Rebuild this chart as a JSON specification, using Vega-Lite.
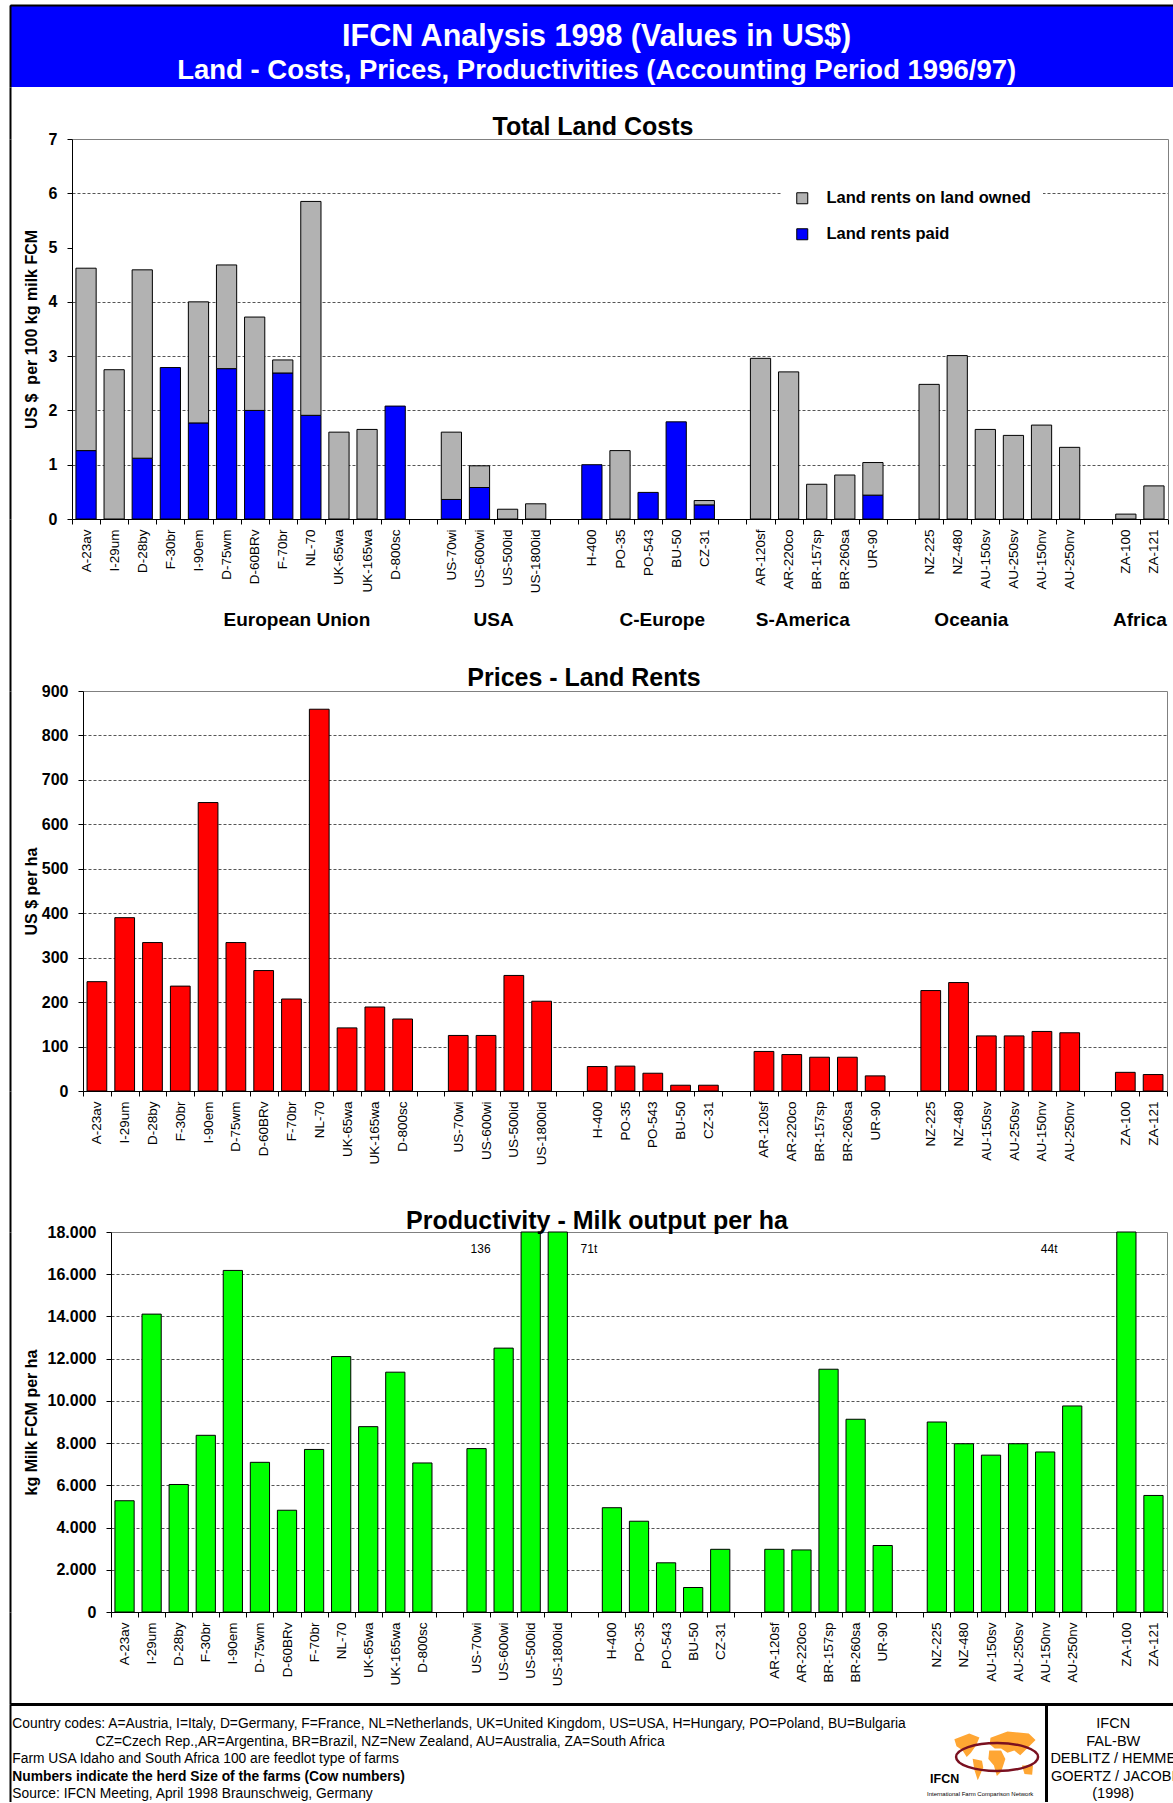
{
  "$schema": "https://vega.github.io/schema/vega-lite/v6.json",
  "padding": {"left": 3, "top": 5, "right": 0, "bottom": 0},
  "background": "white",
  "bounds": "flush",
  "spacing": 0,
  "config": {
    "font": "Liberation Sans",
    "view": {"stroke": null},
    "axis": {"labelFont": "Liberation Sans", "titleFont": "Liberation Sans", "labelColor": "black", "titleColor": "black", "domainColor": "black", "tickColor": "black"},
    "title": {"font": "Liberation Sans", "color": "black"},
    "legend": {"labelFont": "Liberation Sans", "labelColor": "black"},
    "text": {"font": "Liberation Sans", "color": "black"}
  },
  "datasets": {
    "frame": [{"v": 0}],
    "header": [
      {"line": 1, "text": "IFCN Analysis 1998 (Values in US$)"},
      {"line": 2, "text": "Land - Costs, Prices, Productivities (Accounting Period 1996/97)"}
    ],
    "costs": [
      {"cat": "A-23av", "type": "Land rents paid", "value": 1.26},
      {"cat": "A-23av", "type": "Land rents on land owned", "value": 3.36},
      {"cat": "I-29um", "type": "Land rents on land owned", "value": 2.75},
      {"cat": "D-28by", "type": "Land rents paid", "value": 1.12},
      {"cat": "D-28by", "type": "Land rents on land owned", "value": 3.47},
      {"cat": "F-30br", "type": "Land rents paid", "value": 2.79},
      {"cat": "I-90em", "type": "Land rents paid", "value": 1.77},
      {"cat": "I-90em", "type": "Land rents on land owned", "value": 2.23},
      {"cat": "D-75wm", "type": "Land rents paid", "value": 2.77},
      {"cat": "D-75wm", "type": "Land rents on land owned", "value": 1.91},
      {"cat": "D-60BRv", "type": "Land rents paid", "value": 2.0},
      {"cat": "D-60BRv", "type": "Land rents on land owned", "value": 1.72},
      {"cat": "F-70br", "type": "Land rents paid", "value": 2.69},
      {"cat": "F-70br", "type": "Land rents on land owned", "value": 0.24},
      {"cat": "NL-70", "type": "Land rents paid", "value": 1.91},
      {"cat": "NL-70", "type": "Land rents on land owned", "value": 3.94},
      {"cat": "UK-65wa", "type": "Land rents on land owned", "value": 1.6},
      {"cat": "UK-165wa", "type": "Land rents on land owned", "value": 1.65},
      {"cat": "D-800sc", "type": "Land rents paid", "value": 2.08},
      {"cat": "US-70wi", "type": "Land rents paid", "value": 0.36},
      {"cat": "US-70wi", "type": "Land rents on land owned", "value": 1.24},
      {"cat": "US-600wi", "type": "Land rents paid", "value": 0.58},
      {"cat": "US-600wi", "type": "Land rents on land owned", "value": 0.4},
      {"cat": "US-500id", "type": "Land rents on land owned", "value": 0.18},
      {"cat": "US-1800id", "type": "Land rents on land owned", "value": 0.28},
      {"cat": "H-400", "type": "Land rents paid", "value": 1.0},
      {"cat": "PO-35", "type": "Land rents on land owned", "value": 1.26},
      {"cat": "PO-543", "type": "Land rents paid", "value": 0.49},
      {"cat": "BU-50", "type": "Land rents paid", "value": 1.79},
      {"cat": "CZ-31", "type": "Land rents paid", "value": 0.26},
      {"cat": "CZ-31", "type": "Land rents on land owned", "value": 0.08},
      {"cat": "AR-120sf", "type": "Land rents on land owned", "value": 2.96},
      {"cat": "AR-220co", "type": "Land rents on land owned", "value": 2.71},
      {"cat": "BR-157sp", "type": "Land rents on land owned", "value": 0.64},
      {"cat": "BR-260sa", "type": "Land rents on land owned", "value": 0.81},
      {"cat": "UR-90", "type": "Land rents paid", "value": 0.44},
      {"cat": "UR-90", "type": "Land rents on land owned", "value": 0.6},
      {"cat": "NZ-225", "type": "Land rents on land owned", "value": 2.48},
      {"cat": "NZ-480", "type": "Land rents on land owned", "value": 3.01},
      {"cat": "AU-150sv", "type": "Land rents on land owned", "value": 1.65},
      {"cat": "AU-250sv", "type": "Land rents on land owned", "value": 1.54},
      {"cat": "AU-150nv", "type": "Land rents on land owned", "value": 1.73},
      {"cat": "AU-250nv", "type": "Land rents on land owned", "value": 1.32},
      {"cat": "ZA-100", "type": "Land rents on land owned", "value": 0.09},
      {"cat": "ZA-121", "type": "Land rents on land owned", "value": 0.61}
    ],
    "rents": [
      {"cat": "A-23av", "rent": 246}, {"cat": "I-29um", "rent": 390}, {"cat": "D-28by", "rent": 334},
      {"cat": "F-30br", "rent": 236}, {"cat": "I-90em", "rent": 649}, {"cat": "D-75wm", "rent": 334},
      {"cat": "D-60BRv", "rent": 271}, {"cat": "F-70br", "rent": 207}, {"cat": "NL-70", "rent": 859},
      {"cat": "UK-65wa", "rent": 142}, {"cat": "UK-165wa", "rent": 189}, {"cat": "D-800sc", "rent": 162},
      {"cat": "US-70wi", "rent": 125}, {"cat": "US-600wi", "rent": 125}, {"cat": "US-500id", "rent": 260},
      {"cat": "US-1800id", "rent": 202}, {"cat": "H-400", "rent": 55}, {"cat": "PO-35", "rent": 56},
      {"cat": "PO-543", "rent": 40}, {"cat": "BU-50", "rent": 13}, {"cat": "CZ-31", "rent": 13},
      {"cat": "AR-120sf", "rent": 89}, {"cat": "AR-220co", "rent": 82}, {"cat": "BR-157sp", "rent": 76},
      {"cat": "BR-260sa", "rent": 76}, {"cat": "UR-90", "rent": 34}, {"cat": "NZ-225", "rent": 226},
      {"cat": "NZ-480", "rent": 244}, {"cat": "AU-150sv", "rent": 124}, {"cat": "AU-250sv", "rent": 124},
      {"cat": "AU-150nv", "rent": 134}, {"cat": "AU-250nv", "rent": 131}, {"cat": "ZA-100", "rent": 42},
      {"cat": "ZA-121", "rent": 37}
    ],
    "milk": [
      {"cat": "A-23av", "milk": 5270}, {"cat": "I-29um", "milk": 14110}, {"cat": "D-28by", "milk": 6040},
      {"cat": "F-30br", "milk": 8370}, {"cat": "I-90em", "milk": 16180}, {"cat": "D-75wm", "milk": 7090},
      {"cat": "D-60BRv", "milk": 4820}, {"cat": "F-70br", "milk": 7700}, {"cat": "NL-70", "milk": 12100},
      {"cat": "UK-65wa", "milk": 8780}, {"cat": "UK-165wa", "milk": 11360}, {"cat": "D-800sc", "milk": 7060},
      {"cat": "US-70wi", "milk": 7740}, {"cat": "US-600wi", "milk": 12500}, {"cat": "US-500id", "milk": 136000},
      {"cat": "US-1800id", "milk": 71000}, {"cat": "H-400", "milk": 4940}, {"cat": "PO-35", "milk": 4300},
      {"cat": "PO-543", "milk": 2330}, {"cat": "BU-50", "milk": 1160}, {"cat": "CZ-31", "milk": 2970},
      {"cat": "AR-120sf", "milk": 2970}, {"cat": "AR-220co", "milk": 2940}, {"cat": "BR-157sp", "milk": 11500},
      {"cat": "BR-260sa", "milk": 9130}, {"cat": "UR-90", "milk": 3150}, {"cat": "NZ-225", "milk": 9000},
      {"cat": "NZ-480", "milk": 7970}, {"cat": "AU-150sv", "milk": 7430}, {"cat": "AU-250sv", "milk": 7970},
      {"cat": "AU-150nv", "milk": 7580}, {"cat": "AU-250nv", "milk": 9760}, {"cat": "ZA-100", "milk": 44000},
      {"cat": "ZA-121", "milk": 5520}
    ],
    "notes": [
      {"cat": "US-70wi", "note": "136"},
      {"cat": "  ", "note": "71t"},
      {"cat": "AU-150nv", "note": "44t"}
    ],
    "footnotes": [
      {"line": 1, "text": "Country codes: A=Austria, I=Italy, D=Germany, F=France, NL=Netherlands, UK=United Kingdom, US=USA, H=Hungary, PO=Poland, BU=Bulgaria"},
      {"line": 2, "text": "CZ=Czech Rep.,AR=Argentina, BR=Brazil, NZ=New Zealand, AU=Australia, ZA=South Africa"},
      {"line": 3, "text": "Farm USA Idaho and South Africa 100 are feedlot type of farms"},
      {"line": 4, "text": "Numbers indicate the herd Size of the farms (Cow numbers)"},
      {"line": 5, "text": "Source: IFCN Meeting, April 1998 Braunschweig, Germany"}
    ],
    "credits": [
      {"line": 1, "text": "IFCN"},
      {"line": 2, "text": "FAL-BW"},
      {"line": 3, "text": "DEBLITZ / HEMME"},
      {"line": 4, "text": "GOERTZ / JACOBI"},
      {"line": 5, "text": "(1998)"}
    ],
    "logo": [
      {"line": 3, "part": "globe"},
      {"line": 4, "part": "IFCN"},
      {"line": 5, "part": "International Farm Comparison Network"}
    ]
  },
  "vconcat": [
    {
      "width": 1164, "height": 82,
      "view": {"fill": "#0000FF", "stroke": null},
      "data": {"name": "header"},
      "mark": {"type": "text", "color": "white", "fontWeight": "bold", "align": "center", "dy": 3.5},
      "encoding": {
        "x": {"datum": 0.504, "type": "quantitative", "scale": {"domain": [0, 1]},
              "axis": {"orient": "top", "domain": true, "domainColor": "black", "domainWidth": 2, "ticks": false, "labels": false, "grid": false, "title": null}},
        "y": {"field": "line", "type": "ordinal", "scale": {"type": "band", "paddingInner": 0, "paddingOuter": 0.188, "align": 0.865},
              "axis": {"orient": "left", "domain": true, "domainColor": "black", "domainWidth": 2, "ticks": false, "labels": false, "grid": false, "title": null}},
        "text": {"field": "text"},
        "size": {"condition": {"test": "datum.line == 1", "value": 30.5}, "value": 27.5}
      }
    },
    {
      "width": 1164, "height": 52,
      "data": {"name": "frame"},
      "mark": {"type": "point", "opacity": 0},
      "encoding": {"y": {"field": "v", "type": "quantitative", "scale": {"domain": [0, 1]},
        "axis": {"orient": "left", "domain": true, "domainColor": "black", "domainWidth": 2, "ticks": false, "labels": false, "grid": false, "title": null}}}
    },
    {
      "width": 1158, "height": 380,
      "title": {"text": "Total Land Costs", "fontSize": 25, "fontWeight": "bold", "anchor": "middle", "frame": "group", "dx": 4, "offset": -28.5, "baseline": "alphabetic"},
      "data": {"name": "costs"},
      "layer": [
        {
          "mark": {"type": "bar", "stroke": "black", "strokeWidth": 1, "width": {"band": 0.72}},
          "encoding": {
            "x": {"field": "cat", "type": "nominal",
                  "scale": {"domain": ["A-23av","I-29um","D-28by","F-30br","I-90em","D-75wm","D-60BRv","F-70br","NL-70","UK-65wa","UK-165wa","D-800sc"," ","US-70wi","US-600wi","US-500id","US-1800id","  ","H-400","PO-35","PO-543","BU-50","CZ-31","   ","AR-120sf","AR-220co","BR-157sp","BR-260sa","UR-90","    ","NZ-225","NZ-480","AU-150sv","AU-250sv","AU-150nv","AU-250nv","     ","ZA-100","ZA-121"], "range": [62, 1158], "paddingInner": 0, "paddingOuter": 0},
                  "axis": {"orient": "bottom", "title": null, "labelAngle": -90, "labelFontSize": 13.5, "labelPadding": 5, "tickBand": "extent", "tickSize": 5, "grid": false}},
            "y": {"field": "value", "type": "quantitative", "stack": "zero", "scale": {"domain": [0, 7], "nice": false},
                  "axis": {"orient": "left", "offset": -62, "values": [0,1,2,3,4,5,6,7], "title": "US $\u00a0 per 100 kg milk FCM", "titleFontSize": 16, "titleFontWeight": "bold", "titleX": -40.5, "titleY": 190, "titleAngle": -90, "titleAlign": "center", "titleBaseline": "middle",
                           "labelFontSize": 16, "labelFontWeight": "bold", "labelPadding": 10, "tickSize": 5,
                           "grid": true, "gridDash": [3, 2], "gridColor": "#555555", "gridWidth": 1,
                           "gridOpacity": {"condition": {"test": "datum.value == 0 || datum.value == 5 || datum.value == 7", "value": 0}, "value": 1}}},
            "color": {"field": "type", "type": "nominal",
                      "scale": {"domain": ["Land rents on land owned", "Land rents paid"], "range": ["#B2B2B2", "#0000FF"]},
                      "legend": {"title": null, "orient": "none", "legendX": 772, "legendY": 173, "fillColor": "white", "padding": 12,
                                 "symbolType": "square", "symbolSize": 121, "symbolStrokeColor": "black", "symbolStrokeWidth": 1, "symbolOpacity": 1,
                                 "labelFontSize": 16.5, "labelFontWeight": "bold", "labelOffset": 16, "labelLimit": 320, "rowPadding": 19}},
            "order": {"field": "type", "type": "nominal", "sort": "descending"}
          }
        },
        {
          "mark": {"type": "point", "opacity": 0},
          "encoding": {
            "x": {"field": "cat", "type": "nominal",
                  "axis": {"orient": "bottom", "values": ["NL-70", "US-500id", "BU-50", "BR-157sp", "AU-150sv", "ZA-121"],
                           "labelExpr": "datum.value == 'NL-70' ? 'European Union' : datum.value == 'US-500id' ? 'USA' : datum.value == 'BU-50' ? 'C-Europe' : datum.value == 'BR-157sp' ? 'S-America' : datum.value == 'AU-150sv' ? 'Oceania' : 'Africa'",
                           "labelOffset": -14, "labelAngle": 0, "labelAlign": "center", "labelBaseline": "middle", "labelPadding": 100,
                           "labelFontSize": 19, "labelFontWeight": "bold", "ticks": false, "tickSize": 0, "domain": false, "grid": false, "title": null}},
            "y": {"field": "value", "type": "quantitative",
                  "axis": {"orient": "right", "domain": true, "domainColor": "#808080", "domainWidth": 1, "ticks": false, "labels": false, "grid": false, "title": null}}
          }
        },
        {
          "mark": {"type": "point", "opacity": 0},
          "encoding": {
            "x": {"field": "cat", "type": "nominal",
                  "axis": {"orient": "top", "domain": true, "domainColor": "#808080", "domainWidth": 1, "ticks": false, "labels": false, "grid": false, "title": null}},
            "y": {"field": "value", "type": "quantitative",
                  "axis": {"orient": "left", "offset": 0, "domain": true, "domainColor": "black", "domainWidth": 2, "ticks": false, "labels": false, "grid": false, "title": null}}
          }
        }
      ],
      "resolve": {"axis": {"x": "independent", "y": "independent"}}
    },
    {
      "width": 1164, "height": 172,
      "data": {"name": "frame"},
      "mark": {"type": "point", "opacity": 0},
      "encoding": {"y": {"field": "v", "type": "quantitative", "scale": {"domain": [0, 1]},
        "axis": {"orient": "left", "domain": true, "domainColor": "black", "domainWidth": 2, "ticks": false, "labels": false, "grid": false, "title": null}}}
    },
    {
      "width": 1157, "height": 400,
      "title": {"text": "Prices - Land Rents", "fontSize": 25, "fontWeight": "bold", "anchor": "middle", "frame": "group", "dx": -4.5, "offset": -27.8, "baseline": "alphabetic"},
      "data": {"name": "rents"},
      "layer": [
        {
          "mark": {"type": "bar", "color": "#FF0000", "stroke": "black", "strokeWidth": 1, "width": {"band": 0.71}},
          "encoding": {
            "x": {"field": "cat", "type": "nominal",
                  "scale": {"domain": ["A-23av","I-29um","D-28by","F-30br","I-90em","D-75wm","D-60BRv","F-70br","NL-70","UK-65wa","UK-165wa","D-800sc"," ","US-70wi","US-600wi","US-500id","US-1800id","  ","H-400","PO-35","PO-543","BU-50","CZ-31","   ","AR-120sf","AR-220co","BR-157sp","BR-260sa","UR-90","    ","NZ-225","NZ-480","AU-150sv","AU-250sv","AU-150nv","AU-250nv","     ","ZA-100","ZA-121"], "range": [73, 1157], "paddingInner": 0, "paddingOuter": 0},
                  "axis": {"orient": "bottom", "title": null, "labelAngle": -90, "labelFontSize": 13.5, "labelPadding": 5, "tickBand": "extent", "tickSize": 5, "grid": false}},
            "y": {"field": "rent", "type": "quantitative", "scale": {"domain": [0, 900], "nice": false},
                  "axis": {"orient": "left", "offset": -73, "values": [0,100,200,300,400,500,600,700,800,900], "title": "US $ per ha", "titleFontSize": 16, "titleFontWeight": "bold", "titleX": -51.5, "titleY": 200, "titleAngle": -90, "titleAlign": "center", "titleBaseline": "middle",
                           "labelFontSize": 16, "labelFontWeight": "bold", "labelPadding": 10, "tickSize": 5,
                           "grid": true, "gridDash": [3, 2], "gridColor": "#555555", "gridWidth": 1,
                           "gridOpacity": {"condition": {"test": "datum.value == 0 || datum.value == 900", "value": 0}, "value": 1}}}
          }
        },
        {
          "mark": {"type": "point", "opacity": 0},
          "encoding": {
            "x": {"field": "cat", "type": "nominal",
                  "axis": {"orient": "top", "domain": true, "domainColor": "#808080", "domainWidth": 1, "ticks": false, "labels": false, "grid": false, "title": null}},
            "y": {"field": "rent", "type": "quantitative",
                  "axis": {"orient": "right", "domain": true, "domainColor": "#808080", "domainWidth": 1, "ticks": false, "labels": false, "grid": false, "title": null}}
          }
        },
        {
          "mark": {"type": "point", "opacity": 0},
          "encoding": {
            "x": {"field": "cat", "type": "nominal", "axis": null},
            "y": {"field": "rent", "type": "quantitative",
                  "axis": {"orient": "left", "offset": 0, "domain": true, "domainColor": "black", "domainWidth": 2, "ticks": false, "labels": false, "grid": false, "title": null}}
          }
        }
      ],
      "resolve": {"axis": {"x": "independent", "y": "independent"}}
    },
    {
      "width": 1164, "height": 141,
      "data": {"name": "frame"},
      "mark": {"type": "point", "opacity": 0},
      "encoding": {"y": {"field": "v", "type": "quantitative", "scale": {"domain": [0, 1]},
        "axis": {"orient": "left", "domain": true, "domainColor": "black", "domainWidth": 2, "ticks": false, "labels": false, "grid": false, "title": null}}}
    },
    {
      "width": 1157, "height": 380,
      "title": {"text": "Productivity - Milk output per ha", "fontSize": 25, "fontWeight": "bold", "anchor": "middle", "frame": "group", "dx": 8.5, "offset": -29.8, "baseline": "alphabetic"},
      "data": {"name": "milk"},
      "layer": [
        {
          "mark": {"type": "bar", "color": "#00FF00", "stroke": "black", "strokeWidth": 1, "width": {"band": 0.71}},
          "encoding": {
            "x": {"field": "cat", "type": "nominal",
                  "scale": {"domain": ["A-23av","I-29um","D-28by","F-30br","I-90em","D-75wm","D-60BRv","F-70br","NL-70","UK-65wa","UK-165wa","D-800sc"," ","US-70wi","US-600wi","US-500id","US-1800id","  ","H-400","PO-35","PO-543","BU-50","CZ-31","   ","AR-120sf","AR-220co","BR-157sp","BR-260sa","UR-90","    ","NZ-225","NZ-480","AU-150sv","AU-250sv","AU-150nv","AU-250nv","     ","ZA-100","ZA-121"], "range": [101, 1157], "paddingInner": 0, "paddingOuter": 0},
                  "axis": {"orient": "bottom", "title": null, "labelAngle": -90, "labelFontSize": 13.5, "labelPadding": 5, "tickBand": "extent", "tickSize": 5, "grid": false}},
            "y": {"field": "milk", "type": "quantitative", "scale": {"domain": [0, 18000], "nice": false, "clamp": true},
                  "axis": {"orient": "left", "offset": -101, "values": [0,2000,4000,6000,8000,10000,12000,14000,16000,18000],
                           "labelExpr": "replace(format(datum.value, ','), ',', '.')",
                           "title": "kg Milk FCM per ha", "titleFontSize": 16, "titleFontWeight": "bold", "titleX": -80, "titleY": 190, "titleAngle": -90, "titleAlign": "center", "titleBaseline": "middle",
                           "labelFontSize": 16, "labelFontWeight": "bold", "labelPadding": 10, "tickSize": 5,
                           "grid": true, "gridDash": [3, 2], "gridColor": "#555555", "gridWidth": 1,
                           "gridOpacity": {"condition": {"test": "datum.value == 0 || datum.value == 18000", "value": 0}, "value": 1}}}
          }
        },
        {
          "data": {"name": "notes"},
          "mark": {"type": "text", "fontSize": 12, "align": "center", "baseline": "middle"},
          "encoding": {
            "x": {"field": "cat", "type": "nominal", "bandPosition": 0.65, "axis": null},
            "y": {"datum": 17200, "type": "quantitative", "axis": null},
            "text": {"field": "note"}
          }
        },
        {
          "mark": {"type": "point", "opacity": 0},
          "encoding": {
            "x": {"field": "cat", "type": "nominal",
                  "axis": {"orient": "top", "domain": true, "domainColor": "#808080", "domainWidth": 1, "ticks": false, "labels": false, "grid": false, "title": null}},
            "y": {"field": "milk", "type": "quantitative",
                  "axis": {"orient": "right", "domain": true, "domainColor": "#808080", "domainWidth": 1, "ticks": false, "labels": false, "grid": false, "title": null}}
          }
        },
        {
          "mark": {"type": "point", "opacity": 0},
          "encoding": {
            "x": {"field": "cat", "type": "nominal", "axis": null},
            "y": {"field": "milk", "type": "quantitative",
                  "axis": {"orient": "left", "offset": 0, "domain": true, "domainColor": "black", "domainWidth": 2, "ticks": false, "labels": false, "grid": false, "title": null}}
          }
        }
      ],
      "resolve": {"axis": {"x": "independent", "y": "independent"}}
    },
    {
      "width": 1164, "height": 92,
      "data": {"name": "frame"},
      "mark": {"type": "point", "opacity": 0},
      "encoding": {
        "x": {"field": "v", "type": "quantitative", "scale": {"domain": [0, 1]},
              "axis": {"orient": "bottom", "domain": true, "domainColor": "black", "domainWidth": 3, "ticks": false, "labels": false, "grid": false, "title": null}},
        "y": {"field": "v", "type": "quantitative", "scale": {"domain": [0, 1]},
              "axis": {"orient": "left", "domain": true, "domainColor": "black", "domainWidth": 2, "ticks": false, "labels": false, "grid": false, "title": null}}
      }
    },
    {
      "width": 1164, "height": 98,
      "layer": [
        {
          "data": {"name": "footnotes"},
          "transform": [{"filter": "datum.line == 1 || datum.line == 3 || datum.line == 5"}],
          "mark": {"type": "text", "align": "left", "fontSize": 13.8, "dy": 2.5},
          "encoding": {
            "x": {"datum": 0.002, "type": "quantitative", "scale": {"domain": [0, 1]}, "axis": null},
            "y": {"field": "line", "type": "ordinal", "scale": {"type": "band", "domain": [1, 2, 3, 4, 5], "paddingInner": 0, "paddingOuter": 0.3, "align": 0.88},
                  "axis": {"orient": "left", "domain": true, "domainColor": "black", "domainWidth": 2, "ticks": false, "labels": false, "grid": false, "title": null}},
            "text": {"field": "text"}
          }
        },
        {
          "data": {"name": "footnotes"},
          "transform": [{"filter": "datum.line == 2"}],
          "mark": {"type": "text", "align": "left", "fontSize": 13.8, "dy": 2.5},
          "encoding": {
            "x": {"datum": 0.0735, "type": "quantitative", "axis": null},
            "y": {"field": "line", "type": "ordinal", "axis": null},
            "text": {"field": "text"}
          }
        },
        {
          "data": {"name": "footnotes"},
          "transform": [{"filter": "datum.line == 4"}],
          "mark": {"type": "text", "align": "left", "fontSize": 13.8, "fontWeight": "bold", "dy": 2.5},
          "encoding": {
            "x": {"datum": 0.002, "type": "quantitative", "axis": null},
            "y": {"field": "line", "type": "ordinal", "axis": null},
            "text": {"field": "text"}
          }
        },
        {
          "data": {"name": "credits"},
          "mark": {"type": "text", "align": "center", "fontSize": 14.5, "dy": 2.5},
          "encoding": {
            "x": {"datum": 0.9478, "type": "quantitative", "axis": null},
            "y": {"field": "line", "type": "ordinal",
                  "axis": {"orient": "right", "offset": -128, "domain": true, "domainColor": "black", "domainWidth": 3, "ticks": false, "labels": false, "grid": false, "title": null}},
            "text": {"field": "text"}
          }
        },
        {
          "data": {"name": "logo"},
          "transform": [{"filter": "datum.part == 'globe'"}],
          "mark": {"type": "point", "filled": true, "color": "#FFA633", "opacity": 1, "size": 7225,
                   "shape": "M-0.95,-0.42L-0.6,-0.55L-0.36,-0.46L-0.44,-0.27L-0.56,-0.1L-0.66,0L-0.76,-0.16L-0.9,-0.25Z M-0.52,0.04L-0.3,0.09L-0.27,0.25L-0.4,0.55L-0.48,0.3Z M-0.1,-0.45L0.3,-0.6L0.8,-0.55L0.96,-0.4L0.76,-0.2L0.6,-0.04L0.46,-0.15L0.3,-0.1L0.15,-0.2L0,-0.2L-0.12,-0.3Z M-0.13,-0.15L0.15,-0.15L0.25,0.05L0.15,0.35L0.05,0.45L-0.02,0.2L-0.15,0.05Z M0.64,0.2L0.9,0.2L0.88,0.42L0.7,0.4Z"},
          "encoding": {
            "x": {"datum": 0.846, "type": "quantitative", "axis": null},
            "y": {"field": "line", "type": "ordinal", "axis": null}
          }
        },
        {
          "data": {"name": "logo"},
          "transform": [{"filter": "datum.part == 'globe'"}],
          "mark": {"type": "point", "filled": false, "stroke": "#7A1020", "strokeWidth": 2.5, "opacity": 1, "size": 6724,
                   "shape": "M-1,0A1,0.34,0,1,1,1,0A1,0.34,0,1,1,-1,0Z"},
          "encoding": {
            "x": {"datum": 0.848, "type": "quantitative", "axis": null},
            "y": {"field": "line", "type": "ordinal", "axis": null}
          }
        },
        {
          "data": {"name": "logo"},
          "transform": [{"filter": "datum.part == 'IFCN'"}],
          "mark": {"type": "text", "align": "left", "fontSize": 12.5, "fontWeight": "bold", "dy": 5},
          "encoding": {
            "x": {"datum": 0.7904, "type": "quantitative", "axis": null},
            "y": {"field": "line", "type": "ordinal", "axis": null},
            "text": {"field": "part"}
          }
        },
        {
          "data": {"name": "logo"},
          "transform": [{"filter": "datum.part != 'IFCN' && datum.part != 'globe'"}],
          "mark": {"type": "text", "align": "left", "fontSize": 6, "dy": 2},
          "encoding": {
            "x": {"datum": 0.7878, "type": "quantitative", "axis": null},
            "y": {"field": "line", "type": "ordinal", "axis": null},
            "text": {"field": "part"}
          }
        }
      ],
      "resolve": {"axis": {"y": "independent"}}
    }
  ]
}
